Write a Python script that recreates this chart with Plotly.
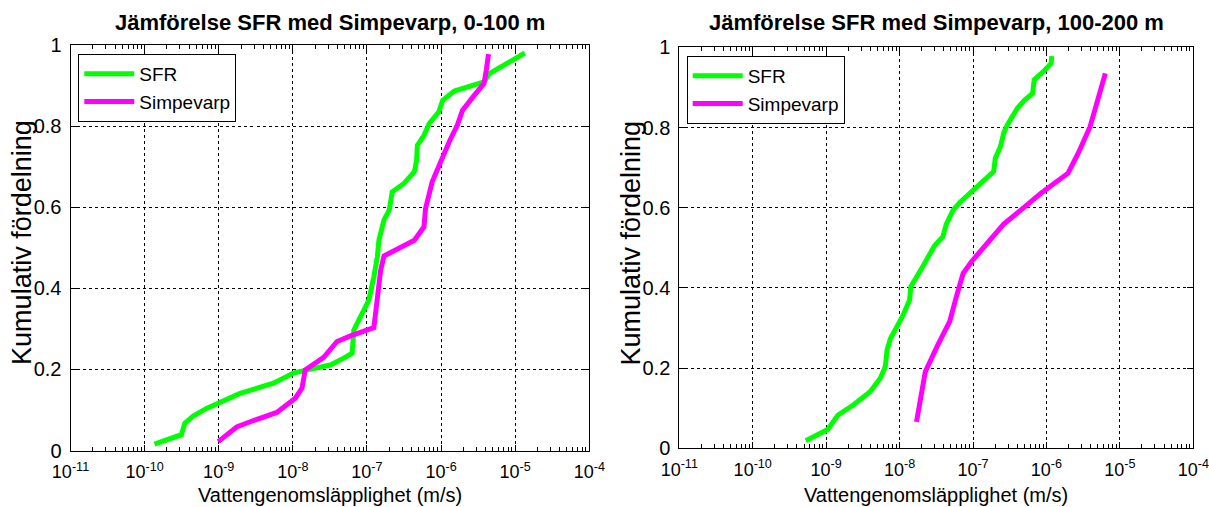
import plotly.graph_objects as go

# ---------------- data ----------------
# Panel 1: 0-100 m
sfr1_k = [1.36e-10, 3.14e-10, 3.48e-10, 4.52e-10, 6.85e-10, 1.04e-9, 1.94e-9, 5.48e-9,
          1.02e-8, 1.55e-8, 3.21e-8, 4.86e-8, 6.31e-8, 6.65e-8, 8.18e-8, 1.06e-7,
          1.24e-7, 1.38e-7, 1.45e-7, 1.70e-7, 2.0e-7, 2.19e-7, 3.16e-7, 4.37e-7,
          4.68e-7, 4.79e-7, 5.89e-7, 6.92e-7, 9.33e-7, 1.05e-6, 1.51e-6, 2.29e-6,
          3.80e-6, 4.47e-6, 1.35e-5]
sfr1_f = [0.016, 0.039, 0.067, 0.085, 0.104, 0.118, 0.141, 0.166,
          0.191, 0.199, 0.211, 0.228, 0.240, 0.297, 0.330, 0.371,
          0.429, 0.478, 0.519, 0.569, 0.593, 0.638, 0.659, 0.688,
          0.717, 0.753, 0.778, 0.807, 0.836, 0.864, 0.887, 0.897,
          0.910, 0.930, 0.981]

sim1_k = [9.86e-10, 1.75e-9, 2.94e-9, 6.08e-9, 1.08e-8, 1.33e-8, 1.47e-8, 2.61e-8,
          3.95e-8, 6.0e-8, 1.24e-7, 1.38e-7, 1.53e-7, 1.70e-7, 2.45e-7, 4.37e-7,
          5.89e-7, 6.17e-7, 7.59e-7, 1.0e-6, 1.29e-6, 1.66e-6, 1.95e-6, 2.82e-6,
          3.80e-6, 4.07e-6, 4.37e-6]
sim1_f = [0.022, 0.058, 0.074, 0.094, 0.129, 0.154, 0.199, 0.230,
          0.269, 0.283, 0.303, 0.380, 0.445, 0.480, 0.495, 0.519,
          0.552, 0.597, 0.663, 0.717, 0.762, 0.803, 0.840, 0.877,
          0.906, 0.938, 0.978]

# Panel 2: 100-200 m
sfr2_k = [5.28e-10, 1.05e-9, 1.45e-9, 2.34e-9, 3.97e-9, 5.46e-9, 6.40e-9, 6.75e-9,
          7.52e-9, 1.09e-8, 1.37e-8, 1.42e-8, 2.06e-8, 2.99e-8, 3.89e-8, 4.33e-8,
          5.35e-8, 6.61e-8, 1.01e-7, 1.47e-7, 1.91e-7, 2.01e-7, 2.36e-7, 2.62e-7,
          2.92e-7, 4.02e-7, 4.97e-7, 6.47e-7, 6.82e-7, 9.38e-7, 1.16e-6, 1.18e-6]
sfr2_f = [0.019, 0.047, 0.083, 0.108, 0.141, 0.175, 0.204, 0.245,
          0.274, 0.328, 0.370, 0.403, 0.453, 0.505, 0.528, 0.559,
          0.594, 0.613, 0.644, 0.671, 0.690, 0.723, 0.752, 0.786,
          0.806, 0.848, 0.867, 0.885, 0.919, 0.942, 0.960, 0.978]

sim2_k = [1.70e-8, 2.01e-8, 2.24e-8, 3.32e-8, 4.81e-8, 5.94e-8, 7.34e-8, 9.59e-8,
          1.55e-7, 2.62e-7, 4.47e-7, 8.43e-7, 1.97e-6, 2.71e-6, 3.93e-6, 5.13e-6,
          6.34e-6]
sim2_f = [0.066, 0.141, 0.191, 0.258, 0.316, 0.378, 0.436, 0.466,
          0.511, 0.559, 0.594, 0.636, 0.686, 0.736, 0.802, 0.877,
          0.935]

series_names = ["SFR", "Simpevarp"]
titles = ["Jämförelse SFR med Simpevarp, 0-100 m", "Jämförelse SFR med Simpevarp, 100-200 m"]
xlabel = "Vattengenomsläpplighet (m/s)"
ylabel = "Kumulativ fördelning"
x_exponents = [-11, -10, -9, -8, -7, -6, -5, -4]
y_ticks = [0, 0.2, 0.4, 0.6, 0.8, 1]
y_ticktext = ["0", "0.2", "0.4", "0.6", "0.8", "1"]

GREEN = "#00ff00"
MAGENTA = "#ff00ff"
FONT = "Liberation Sans, Arial, sans-serif"

W, H = 1209, 507

fig = go.Figure()
fig.add_trace(go.Scatter(x=sfr1_k, y=sfr1_f, mode="lines", name=series_names[0],
                         line=dict(color=GREEN, width=5), xaxis="x", yaxis="y", legend="legend"))
fig.add_trace(go.Scatter(x=sim1_k, y=sim1_f, mode="lines", name=series_names[1],
                         line=dict(color=MAGENTA, width=5), xaxis="x", yaxis="y", legend="legend"))
fig.add_trace(go.Scatter(x=sfr2_k, y=sfr2_f, mode="lines", name=series_names[0],
                         line=dict(color=GREEN, width=5), xaxis="x2", yaxis="y2", legend="legend2"))
fig.add_trace(go.Scatter(x=sim2_k, y=sim2_f, mode="lines", name=series_names[1],
                         line=dict(color=MAGENTA, width=5), xaxis="x2", yaxis="y2", legend="legend2"))

xtickvals = [10.0 ** e for e in x_exponents]
xticktext = ["10<sup>%d</sup>" % e for e in x_exponents]

def xax(domain, anchor):
    return dict(domain=domain, anchor=anchor, type="log", range=[-11, -4],
                tickmode="array", tickvals=xtickvals, ticktext=xticktext,
                ticks="inside", ticklen=6, tickcolor="black", tickwidth=1,
                minor=dict(ticks="inside", ticklen=4, tickcolor="black", tickwidth=1,
                           showgrid=False, dtick="D1"),
                showline=True, linecolor="black", linewidth=1, mirror="allticks",
                showgrid=True, gridcolor="black", gridwidth=1, griddash="3px,3px",
                zeroline=False, automargin=False, ticklabeloverflow="allow",
                tickfont=dict(family=FONT, size=18, color="black"),
                ticklabelstandoff=5)

def yax(domain, anchor):
    return dict(domain=domain, anchor=anchor, range=[0, 1],
                tickmode="array", tickvals=y_ticks, ticktext=y_ticktext,
                ticks="inside", ticklen=6, tickcolor="black", tickwidth=1,
                showline=True, linecolor="black", linewidth=1, mirror="allticks",
                showgrid=True, gridcolor="black", gridwidth=1, griddash="3px,3px",
                zeroline=False, automargin=False, ticklabeloverflow="allow",
                tickfont=dict(family=FONT, size=20, color="black"),
                ticklabelstandoff=4)

ax1 = [70.5, 589.3, 45.3, 450.5]
ax2 = [679.3, 1193.3, 47.3, 448.3]

def xd(a):
    return [a[0] / W, a[1] / W]

def yd(a):
    return [1 - a[3] / H, 1 - a[2] / H]

leg_common = dict(bgcolor="white", bordercolor="black", borderwidth=1,
                  font=dict(family=FONT, size=19, color="black"),
                  xanchor="left", yanchor="top", itemwidth=50, tracegroupgap=0)

fig.update_layout(
    width=W, height=H, margin=dict(l=0, r=0, t=0, b=0, pad=0),
    font=dict(family=FONT, size=19, color="black"),
    paper_bgcolor="white", plot_bgcolor="white",
    xaxis=xax(xd(ax1), "y"), yaxis=yax(yd(ax1), "x"),
    xaxis2=xax(xd(ax2), "y2"), yaxis2=yax(yd(ax2), "x2"),
    legend=dict(x=78.3 / W, y=1 - 54 / H, **leg_common),
    legend2=dict(x=686.7 / W, y=1 - 56 / H, **leg_common),
    showlegend=True,
)
fig.update_xaxes(tickfont_size=18)
fig.update_yaxes(tickfont_size=20)

annotations = []
for a, t in zip([ax1, ax2], titles):
    cx = (a[0] + a[1]) / 2 / W
    annotations.append(dict(text="<b>%s</b>" % t, x=cx, y=1 - 22.5 / H, xref="paper", yref="paper",
                            xanchor="center", yanchor="middle", showarrow=False,
                            font=dict(family=FONT, size=22, color="black")))
    annotations.append(dict(text=xlabel, x=cx, y=1 - 495 / H, xref="paper", yref="paper",
                            xanchor="center", yanchor="middle", showarrow=False,
                            font=dict(family=FONT, size=20, color="black")))
    annotations.append(dict(text=ylabel, x=(a[0] - 48.5) / W, y=1 - ((a[2] + a[3]) / 2 - 5) / H,
                            xref="paper", yref="paper", textangle=-90,
                            xanchor="center", yanchor="middle", showarrow=False,
                            font=dict(family=FONT, size=27, color="black")))
fig.update_layout(annotations=annotations)

fig.write_html("out.html",
               post_script="document.body.style.margin='0';document.body.style.overflow='hidden';")
